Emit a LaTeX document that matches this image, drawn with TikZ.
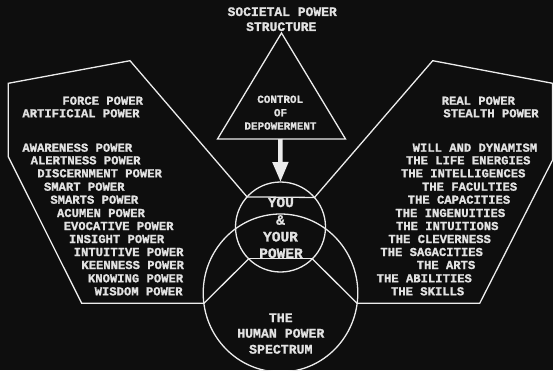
\documentclass[tikz,border=0pt]{standalone}
\usepackage{fontspec}
\setmonofont{Liberation Mono}[BoldFeatures={FakeBold=1.2}]
\usetikzlibrary{arrows.meta,shapes.geometric}
\definecolor{bg}{RGB}{14,14,14}
\definecolor{fg}{RGB}{236,236,236}
\definecolor{tx}{RGB}{226,226,226}
\begin{document}
\begin{tikzpicture}[x=1pt,y=-1pt,
  outline/.style={draw=fg,line width=1.3pt,line join=miter},
  ring/.style={draw=fg,line width=1.3pt,inner sep=0pt,outer sep=0pt},
  lst/.style={text=tx,font=\ttfamily\bfseries\fontsize{12.2}{13}\selectfont,inner sep=0pt,anchor=west},
  ttl/.style={text=tx,font=\ttfamily\bfseries\fontsize{13}{15}\selectfont,inner sep=0pt},
  ctl/.style={text=tx,font=\ttfamily\bfseries\fontsize{10.9}{13}\selectfont,inner sep=0pt},
  youtx/.style={text=tx,font=\ttfamily\bfseries\fontsize{14.5}{17}\selectfont,inner sep=0pt},
  spec/.style={text=tx,font=\ttfamily\bfseries\fontsize{13.2}{16}\selectfont,inner sep=0pt}]
\fill[bg] (0,0) rectangle (553,370);
\useasboundingbox (0,0) rectangle (553,370);

% triangle
\coordinate (apex) at (281.5,33);
\coordinate (tl) at (217.5,139);
\coordinate (tr) at (345.5,139);
\coordinate (tb) at (280.3,139);
\draw[outline] (apex) -- (tl) -- (tr) -- cycle;

% circles
\node[ring,ellipse,minimum width=154.6pt,minimum height=158pt] (big) at (280.5,293) {};
\node[ring,circle,minimum size=90pt,fill=none] (you) at (280.5,227) {};

% arrow
\draw[fg,line width=4.5pt,-{Triangle[width=15pt,length=20pt]}] (tb) -- (you.north);

% chords
\draw[outline] (you.138.2) -- (you.41.8);
\draw[outline] (you.225.9) -- (you.-45.9);

% left polygon
\coordinate (hl) at (203.9,303.3);
\coordinate (la) at (81.7,303.3);
\coordinate (lb) at (8.3,156.7);
\coordinate (lc) at (8.3,83.3);
\coordinate (ld) at (130,60.7);
\draw[outline] (you.225.9) -- (hl) -- (la) -- (lb) -- (lc) -- (ld) -- (you.138.2);

% right polygon
\coordinate (hr) at (357.1,303.3);
\coordinate (ra) at (479.7,303.3);
\coordinate (rb) at (552.6,160);
\coordinate (rc) at (552.6,83.3);
\coordinate (rd) at (432.7,60.7);
\draw[outline] (you.-45.9) -- (hr) -- (ra) -- (rb) -- (rc) -- (rd) -- (you.41.8);

% titles
\node[ttl] (t1) at (282.2,11.7) {SOCIETAL POWER};
\node[ttl] (t2) at (281.3,26.7) {STRUCTURE};
\node[ctl] (c1) at (280.2,99.3) {CONTROL};
\node[ctl] (c2) at (280.5,112.7) {OF};
\node[ctl] (c3) at (280.5,126) {DEPOWERMENT};
\node[youtx] (y1) at (280.8,202.3) {YOU};
\node[youtx] (y2) at (280.5,220) {\&};
\node[youtx] (y3) at (280.5,236.7) {YOUR};
\node[youtx] (y4) at (281,253.3) {POWER};
\node[spec] (s1) at (280.8,317.7) {THE};
\node[spec] (s2) at (280.8,333.3) {HUMAN POWER};
\node[spec] (s3) at (280.8,349.3) {SPECTRUM};

% left list
\node[lst] (l1) at (62.2,100.7) {FORCE POWER};
\node[lst] (l2) at (22.2,113.3) {ARTIFICIAL POWER};
\node[lst] (l3) at (22.2,147.7) {AWARENESS POWER};
\node[lst] (l4) at (30.5,160.3) {ALERTNESS POWER};
\node[lst] (l5) at (37.2,173.3) {DISCERNMENT POWER};
\node[lst] (l6) at (43.8,186.7) {SMART POWER};
\node[lst] (l7) at (50.2,199.7) {SMARTS POWER};
\node[lst] (l8) at (56.8,213) {ACUMEN POWER};
\node[lst] (l9) at (63.5,226) {EVOCATIVE POWER};
\node[lst] (l10) at (68.8,239) {INSIGHT POWER};
\node[lst] (l11) at (73.5,252) {INTUITIVE POWER};
\node[lst] (l12) at (81.2,265) {KEENNESS POWER};
\node[lst] (l13) at (87.8,278.3) {KNOWING POWER};
\node[lst] (l14) at (94.5,291.3) {WISDOM POWER};

% right list
\node[lst] (r1) at (441.5,100.7) {REAL POWER};
\node[lst] (r2) at (443.2,113.3) {STEALTH POWER};
\node[lst] (r3) at (412.5,147.7) {WILL AND DYNAMISM};
\node[lst] (r4) at (405.8,160.3) {THE LIFE ENERGIES};
\node[lst] (r5) at (400.8,173.3) {THE INTELLIGENCES};
\node[lst] (r6) at (421.8,186.7) {THE FACULTIES};
\node[lst] (r7) at (407.5,199.7) {THE CAPACITIES};
\node[lst] (r8) at (395.2,213) {THE INGENUITIES};
\node[lst] (r9) at (395.8,226) {THE INTUITIONS};
\node[lst] (r10) at (388.2,239) {THE CLEVERNESS};
\node[lst] (r11) at (380.2,252) {THE SAGACITIES};
\node[lst] (r12) at (416.5,265) {THE ARTS};
\node[lst] (r13) at (376.5,278.3) {THE ABILITIES};
\node[lst] (r14) at (390.8,291.3) {THE SKILLS};
\end{tikzpicture}
\end{document}
